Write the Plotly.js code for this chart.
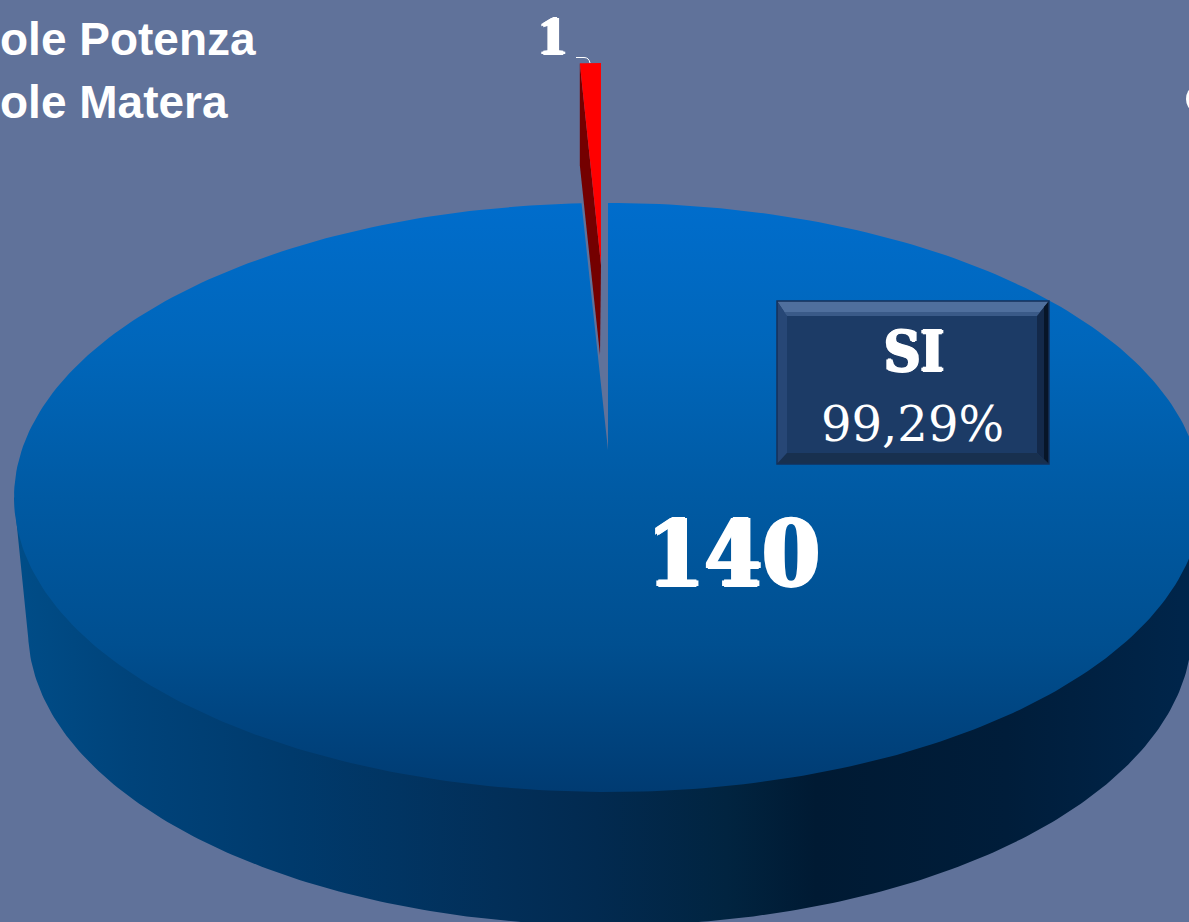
<!DOCTYPE html>
<html>
<head>
<meta charset="utf-8">
<script src="https://cdn.plot.ly/plotly-3.0.1.min.js"></script>
<style>html,body{margin:0;padding:0;background:#60729a;overflow:hidden}#chart{width:1189px;height:922px}</style>
</head>
<body>
<div id="chart"></div>
<script>
// Data
const categories = ['SI', 'NO'];
const values = [140, 1];
const legendLabels = ['ole Potenza', 'ole Matera'];

// Geometry of the tilted pie on a 1:1 pixel axis
const W = 1189, H = 922;
const total = values[0] + values[1];
const sweepSmall = values[1] / total * 2 * Math.PI;
const topE = {cx: 608, cy: 497.5, rx: 594, ry: 294.5};
const apex = {x: 608, y: 450};
const lowE = {cx: 610, cy: 630, rx: 582, ry: 295.5};
const ell = (e, t) => [e.cx + e.rx * Math.sin(t), e.cy - e.ry * Math.cos(t)];
const range = (a, b, n) => Array.from({length: n + 1}, (_, i) => a + (b - a) * i / n);
const unzip = pts => ({x: pts.map(p => p[0]), y: pts.map(p => p[1])});

// Large slice: top face runs clockwise from 12 o'clock round to the small slice
const bigTop = [[apex.x, apex.y]].concat(
  range(0, 2 * Math.PI - sweepSmall, 360).map(t => ell(topE, t)));
bigTop.push([apex.x, apex.y]);

// Side wall
const wall = [ell(topE, 3 * Math.PI / 2)]
  .concat(range(3 * Math.PI / 2, Math.PI / 2, 240).map(t => ell(lowE, t)))
  .concat([ell(topE, Math.PI / 2)]);
wall.push(wall[0]);

// Small slice, pulled out upward
const redApex = {x: 601, y: 265};
const redSX = 0.8, redSY = 0.818;
const redPt = t => {
  const p = ell(topE, t);
  return [redApex.x + (p[0] - apex.x) * redSX, redApex.y + (p[1] - apex.y) * redSY];
};
const redArc = range(-sweepSmall, 0, 8).map(redPt);
const redTop = [[redApex.x, redApex.y]].concat(redArc, [[redApex.x, redApex.y]]);
const redOuter = redArc[0];
const redSide = [redOuter, [redOuter[0], redOuter[1] + 102], [redApex.x - 1, redApex.y + 90], [redApex.x, redApex.y], redOuter];

const poly = (pts, extra) => Object.assign({
  type: 'scatter', mode: 'lines', fill: 'toself', line: {width: 0},
  hoverinfo: 'skip', showlegend: false
}, unzip(pts), extra);

const traces = [
  poly(wall, {fillcolor: '#02294f', fillgradient: {type: 'horizontal', colorscale: [
    [0, '#004d88'], [0.1, '#00437a'], [0.234, '#003a6c'], [0.405, '#022f59'], [0.49, '#022a50'],
    [0.6, '#012440'], [0.675, '#001a33'], [0.835, '#001d3a'], [1, '#00264c']]}}),
  poly(bigTop, {name: categories[0], fillcolor: '#0059a0', fillgradient: {type: 'vertical', colorscale: [
    [0, '#003b72'], [0.25, '#004f90'], [0.5, '#005aa3'], [0.75, '#0066ba'], [1, '#006dcc']]}}),
  poly(redSide, {fillcolor: '#740000'}),
  poly(redTop, {name: categories[1], fillcolor: '#ff0000'})
];

const pct = (values[0] / total * 100).toFixed(2).replace('.', ',') + '%';
const thick = n => `${n}px 0 #fff,-${n}px 0 #fff,0 ${n/2}px #fff,0 -${n/2}px #fff`;
const ann = (x, y, text, size, family, extra, shadow) => Object.assign({
  x, y, xref: 'x', yref: 'y', text, showarrow: false, borderpad: 0, borderwidth: 0,
  font: Object.assign({size, family, color: '#ffffff'}, shadow ? {shadow} : {}),
  xanchor: 'center', yanchor: 'middle'
}, extra);
const annotations = [
  ann(0, 39, '<b>' + legendLabels[0] + '</b>', 46, 'Liberation Sans', {xanchor: 'left'}),
  ann(0, 102, '<b>' + legendLabels[1] + '</b>', 46, 'Liberation Sans', {xanchor: 'left'}),
  ann(552.5, 36, '<b>' + values[1] + '</b>', 54, 'Liberation Serif', {}, thick(2)),
  ann(733, 554, '<b>' + values[0] + '</b>', 92, 'DejaVu Serif Condensed', {}, thick(2)),
  ann(913.5, 351, '<b>' + categories[0] + '</b>', 56, 'DejaVu Serif Condensed', {}, thick(1.5)),
  ann(912, 424, pct, 48, 'DejaVu Serif')
];

const b = {x0: 777, y0: 301, x1: 1049, y1: 464, il: 10, it: 15, ir: 12, ib: 11};
const quad = (pts, fill) => ({
  type: 'path', xref: 'x', yref: 'y', layer: 'above', line: {width: 0}, fillcolor: fill,
  path: 'M' + pts.map(p => p.join(',')).join('L') + 'Z'
});
const shapes = [
  quad([[b.x0, b.y0], [b.x1, b.y0], [b.x1, b.y1], [b.x0, b.y1]], '#1c3b66'),
  quad([[b.x0, b.y0], [b.x1, b.y0], [b.x1 - b.ir, b.y0 + b.it], [b.x0 + b.il, b.y0 + b.it]], '#4f6f9d'),
  quad([[b.x0 + 4, b.y0 + 11], [b.x1 - 4, b.y0 + 11], [b.x1 - b.ir, b.y0 + b.it], [b.x0 + b.il, b.y0 + b.it]], '#3a5a88'),
  quad([[b.x0, b.y0], [b.x0 + b.il, b.y0 + b.it], [b.x0 + b.il, b.y1 - b.ib], [b.x0, b.y1]], '#274776'),
  quad([[b.x1, b.y0], [b.x1 - b.ir, b.y0 + b.it], [b.x1 - b.ir, b.y1 - b.ib], [b.x1, b.y1]], '#13294a'),
  quad([[b.x1, b.y0], [b.x1 - 5, b.y0 + 6], [b.x1 - 5, b.y1 - 5], [b.x1, b.y1]], '#071528'),
  quad([[b.x0, b.y1], [b.x0 + b.il, b.y1 - b.ib], [b.x1 - b.ir, b.y1 - b.ib], [b.x1, b.y1]], '#18304f'),
  {type: 'rect', xref: 'x', yref: 'y', layer: 'above', line: {color: '#14305a', width: 1.5},
   x0: b.x0, x1: b.x1, y0: b.y0, y1: b.y1},
  {type: 'path', xref: 'x', yref: 'y', layer: 'above', line: {color: '#ffffff', width: 1},
   path: 'M576,57.5L584,57.5Q589,57.5 590,63'},
  {type: 'circle', xref: 'x', yref: 'y', layer: 'above', line: {width: 0}, fillcolor: '#ffffff',
   x0: 1186, x1: 1200, y0: 88, y1: 110}
];

const axis = r => ({range: r, visible: false, fixedrange: true, showgrid: false, zeroline: false});
Plotly.newPlot('chart', traces, {
  width: W, height: H, margin: {l: 0, r: 0, t: 0, b: 0, pad: 0},
  paper_bgcolor: '#60729a', plot_bgcolor: '#60729a', showlegend: false,
  xaxis: axis([0, W]), yaxis: axis([H, 0]),
  annotations, shapes
}, {displayModeBar: false, staticPlot: true});
</script>
</body>
</html>
